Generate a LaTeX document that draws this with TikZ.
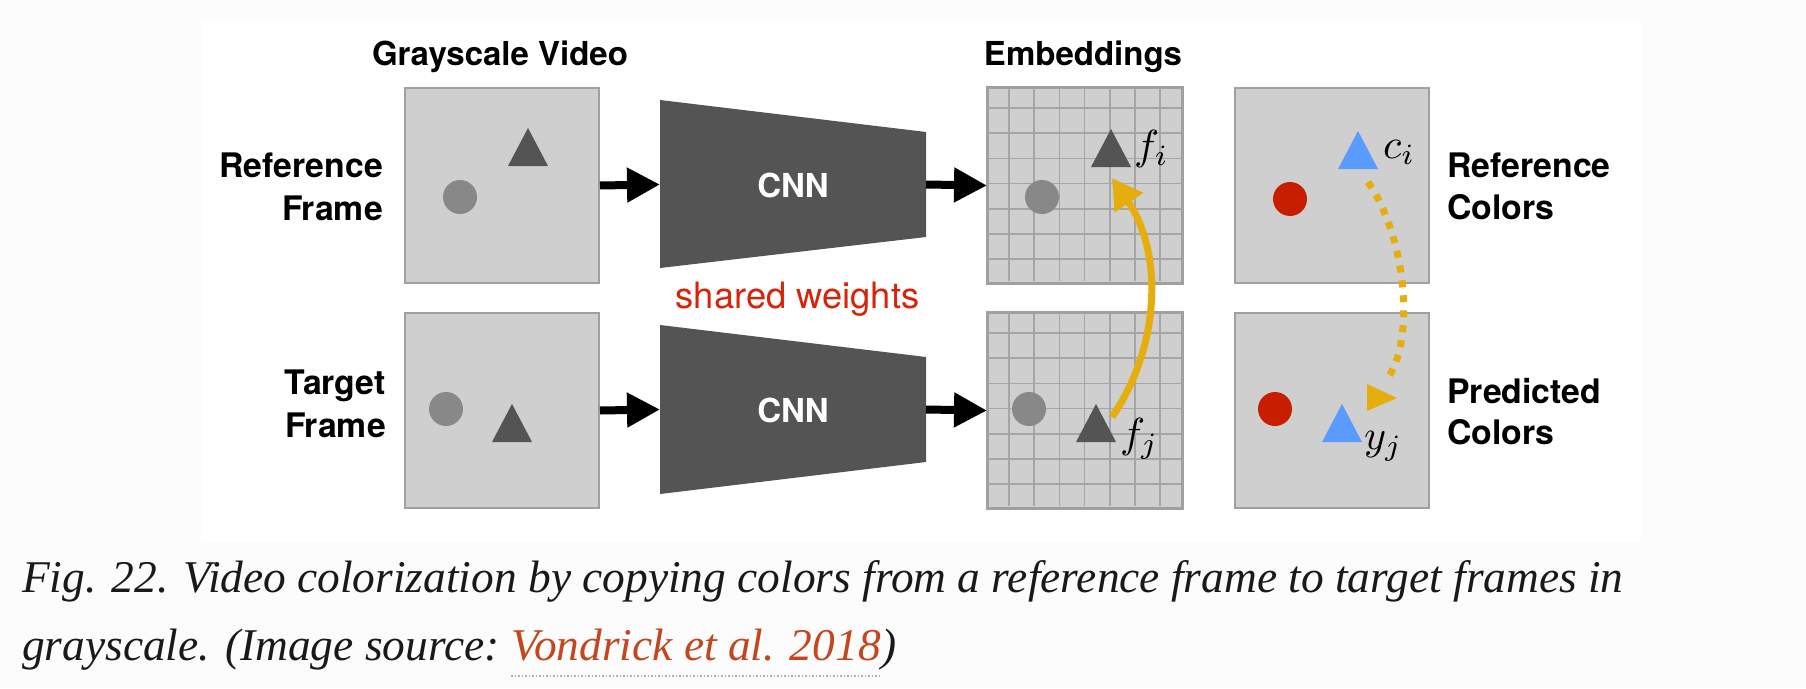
\documentclass[tikz,border=0pt]{standalone}
\usepackage{graphicx}
\usepackage{fontspec}
\setmainfont{Liberation Serif}
\newfontfamily\helv{TeX Gyre Heros}
\usetikzlibrary{arrows.meta}
\definecolor{pagebg}{RGB}{252,252,252}
\definecolor{boxfill}{RGB}{207,207,207}
\definecolor{boxline}{RGB}{160,160,160}
\definecolor{gridcol}{RGB}{165,165,165}
\definecolor{darkshape}{RGB}{84,84,84}
\definecolor{midshape}{RGB}{136,136,136}
\definecolor{redshape}{RGB}{200,30,0}
\definecolor{blueshape}{RGB}{90,155,255}
\definecolor{gold}{RGB}{230,173,15}
\definecolor{sharedred}{RGB}{215,35,10}
\definecolor{linkcol}{RGB}{196,70,30}
\definecolor{captext}{RGB}{25,25,25}
\newcommand{\trishape}[3]{\fill[#1] (#2,#3) -- ++(20,38) -- ++(-40,0) -- cycle;}
\newcommand{\bigmath}[1]{\scalebox{4.2}{$#1$}}
\begin{document}
\begin{tikzpicture}[x=1pt,y=-1pt,
  framebox/.style={draw=boxline, line width=2pt, fill=boxfill, minimum width=194pt,
    minimum height=195pt, inner sep=0pt, anchor=north west},
  gridl/.style={draw=gridcol, line width=1.5pt},
  lbl/.style={font=\helv\bfseries\fontsize{33}{43}\selectfont, text=black, inner sep=0pt},
  rowlbl/.style={font=\helv\bfseries\fontsize{33.8}{43}\selectfont, text=black, inner sep=0pt},
  cnnlbl/.style={font=\helv\bfseries\fontsize{33}{43}\selectfont, text=white, inner sep=0pt},
  mathlbl/.style={inner sep=0pt},
  blk/.style={line width=8pt, -{Triangle[length=33pt,width=33pt]}},
  goldsolid/.style={draw=gold, line width=7pt, -{Triangle[length=30pt,width=33pt]}},
  golddots/.style={draw=gold, line width=7pt, dash pattern=on 7pt off 8pt},
  captxt/.style={font=\itshape\fontsize{45.4}{50}\selectfont, text=captext, inner sep=0pt}
]
\useasboundingbox (0,0) rectangle (1806,688);
\fill[pagebg] (0,0) rectangle (1806,688);
\fill[white] (201,20) rectangle (1641,542);

% column titles
\node[lbl, anchor=base] (gv) at (500,65) {Grayscale Video};
\node[lbl, anchor=base] (emb) at (1083,65) {Embeddings};

% boxes
\node[framebox] (ref) at (404,87) {};
\node[framebox] (tgt) at (404,312) {};
\node[framebox] (emb1) at (987,87) {};
\node[framebox] (emb2) at (987,312) {};
\node[framebox] (col1) at (1234,87) {};
\node[framebox] (col2) at (1234,312) {};

% grids
\foreach \k in {0,...,6} {
  \draw[gridl] (1009+25.2*\k,88) -- (1009+25.2*\k,281);
  \draw[gridl] (988,108+25.2*\k) -- (1181,108+25.2*\k);
  \draw[gridl] (1009+25.2*\k,313) -- (1009+25.2*\k,506);
  \draw[gridl] (988,333+25.2*\k) -- (1181,333+25.2*\k);
}
\draw[draw=boxline, line width=2pt] (emb1.north west) rectangle (emb1.south east);
\draw[draw=boxline, line width=2pt] (emb2.north west) rectangle (emb2.south east);

% shapes in frames
\trishape{darkshape}{528}{128}
\fill[midshape] (460,197) circle[radius=17pt];
\trishape{darkshape}{512}{404}
\fill[midshape] (446,409) circle[radius=17pt];
\trishape{darkshape}{1111}{129}
\fill[midshape] (1042,197) circle[radius=17pt];
\trishape{darkshape}{1096}{404}
\fill[midshape] (1029,409) circle[radius=17pt];
\trishape{blueshape}{1358}{131}
\fill[redshape] (1290,199) circle[radius=17pt];
\trishape{blueshape}{1342}{404}
\fill[redshape] (1275,409) circle[radius=17pt];

% CNNs
\fill[darkshape] (660,100) -- (926,132) -- (926,237) -- (660,268) -- cycle;
\fill[darkshape] (660,325) -- (926,357) -- (926,462) -- (660,494) -- cycle;
\node[cnnlbl] (cnn1) at (793,185) {CNN};
\node[cnnlbl] (cnn2) at (793,410) {CNN};
\coordinate (cnn1w) at (660,184.5);
\coordinate (cnn1e) at (926,184.5);
\coordinate (cnn2w) at (660,409.5);
\coordinate (cnn2e) at (926,409.5);

% black arrows
\draw[blk] (ref.east) -- (cnn1w);
\draw[blk] (cnn1e) -- (emb1.west);
\draw[blk] (tgt.east) -- (cnn2w);
\draw[blk] (cnn2e) -- (emb2.west);

% row labels
\node[rowlbl, anchor=base east] (rf1) at (383,177) {Reference};
\node[rowlbl, anchor=base east] (rf2) at (383,220) {Frame};
\node[rowlbl, anchor=base east] (tf1) at (386,394) {Target};
\node[rowlbl, anchor=base east] (tf2) at (386,437) {Frame};
\node[rowlbl, anchor=base west] (rc1) at (1447,177) {Reference};
\node[rowlbl, anchor=base west] (rc2) at (1447,219) {Colors};
\node[rowlbl, anchor=base west] (pc1) at (1447,403) {Predicted};
\node[rowlbl, anchor=base west] (pc2) at (1447,444) {Colors};

\node[font=\helv\fontsize{36.3}{36}\selectfont, text=sharedred, inner sep=0pt, anchor=base] (sw) at (797.5,308) {shared weights};

% math labels
\node[mathlbl, anchor=base west] (fi) at (1134,159) {\bigmath{f_i}};
\node[mathlbl, anchor=base west] (ci) at (1383,158) {\bigmath{c_i}};
\node[mathlbl, anchor=base west] (fj) at (1120,447) {\bigmath{f_j}};
\node[mathlbl, anchor=base west] (yj) at (1364,449) {\bigmath{y_j}};

% yellow arrows
\coordinate (fjtop) at (1112,417);
\coordinate (fitip) at (1112,178);
\draw[goldsolid] (fjtop) .. controls (1162,344) and (1162,251) .. (fitip);
\coordinate (citail) at (1368,182);
\coordinate (yjhead) at (1386,380);
\draw[golddots] (citail) .. controls (1408,240) and (1415,345) .. (yjhead);
\fill[gold] (1367,384) -- (1397,398) -- (1367,411) -- cycle;

% caption
\node[captxt, anchor=base west] (cap1) at (22,592) {Fig. 22. Video colorization by copying colors from a reference frame to target frames in};
\node[captxt, anchor=base west] (cap2) at (22,660) {grayscale. (Image source:};
\node[captxt, text=linkcol, anchor=base west] (link) at ([xshift=11.3pt]cap2.base east) {Vondrick et al. 2018};
\node[captxt, anchor=base west] (cap3) at (link.base east) {)};
\draw[draw=gray!60, line width=1.5pt, dotted] ([yshift=-16pt]link.base west) -- ([yshift=-16pt]link.base east);
\end{tikzpicture}
\end{document}
